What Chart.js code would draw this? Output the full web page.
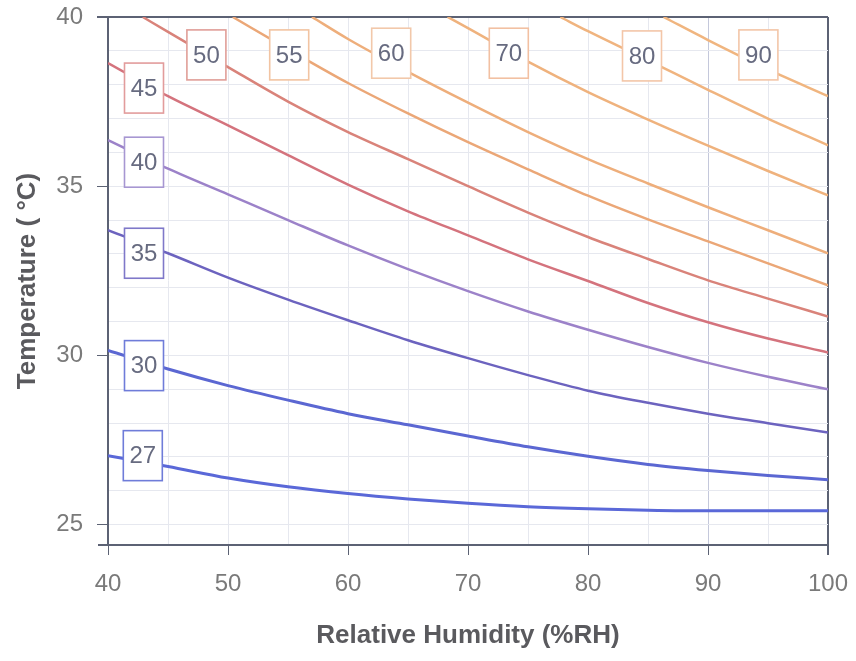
<!DOCTYPE html>
<html><head><meta charset="utf-8">
<script src="https://cdn.jsdelivr.net/npm/chart.js@4/dist/chart.umd.min.js"></script>
<style>html,body{margin:0;padding:0;background:#fff}</style>
</head><body>
<canvas id="c" width="856" height="661"></canvas>
<script>
// Relative humidity grid (%RH)
const rh = [40, 45, 50, 55, 60, 65, 70, 75, 80, 85, 90, 95, 100];
// Contour (apparent temperature) labels
const contourLabels = ['27', '30', '35', '40', '45', '50', '55', '60', '70', '80', '90'];
// RH where a contour enters through the top edge (T = 40 °C); null = enters from left edge
const topEntryRH = [null, null, null, null, null, 42.9, 50.4, 57.0, 68.3, 77.7, 86.3];
// Temperature (°C) along each contour at the RH grid
const t27 = [27.04, 26.72, 26.38, 26.12, 25.92, 25.76, 25.63, 25.53, 25.47, 25.43, 25.41, 25.41, 25.41];
const t30 = [30.15, 29.60, 29.11, 28.68, 28.28, 27.95, 27.62, 27.30, 27.02, 26.78, 26.60, 26.45, 26.33];
const t35 = [33.70, 33.02, 32.30, 31.65, 31.04, 30.45, 29.92, 29.42, 28.96, 28.60, 28.28, 28.00, 27.72];
const t40 = [36.36, 35.52, 34.76, 34.00, 33.25, 32.55, 31.90, 31.30, 30.76, 30.25, 29.78, 29.37, 29.00];
const t45 = [38.64, 37.66, 36.80, 35.92, 35.05, 34.26, 33.55, 32.84, 32.20, 31.55, 30.98, 30.50, 30.09];
const t50 = [null, 39.56, 38.52, 37.50, 36.60, 35.80, 35.00, 34.22, 33.50, 32.85, 32.22, 31.68, 31.15];
const t55 = [null, null, null, 39.05, 38.05, 37.15, 36.30, 35.50, 34.72, 34.02, 33.37, 32.72, 32.07];
const t60 = [null, null, null, null, 39.35, 38.38, 37.47, 36.60, 35.80, 35.08, 34.38, 33.70, 33.02];
const t70 = [null, null, null, null, null, null, 39.67, 38.68, 37.78, 36.97, 36.20, 35.45, 34.73];
const t80 = [null, null, null, null, null, null, null, null, 39.58, 38.72, 37.85, 37.00, 36.21];
const t90 = [null, null, null, null, null, null, null, null, null, null, 39.32, 38.45, 37.66];
const series = [t27, t30, t35, t40, t45, t50, t55, t60, t70, t80, t90];
// Label box anchors (RH, T)
const labelRH = [42.9, 43.0, 43.0, 43.0, 43.0, 48.2, 55.1, 63.6, 73.4, 84.5, 94.2];
const labelT  = [27.04, 29.70, 33.02, 35.71, 37.90, 38.88, 38.88, 38.93, 38.93, 38.85, 38.88];
// Axis ticks
const xGridValues = [40, 45, 50, 55, 60, 65, 70, 75, 80, 85, 90, 95, 100];
const yGridValues = [25, 26, 27, 28, 29, 30, 31, 32, 33, 34, 35, 36, 37, 38, 39, 40];

const lineColors = ['#5a68d8', '#5b67d2', '#6c63bf', '#9c82c9', '#d4737d', '#d9837a', '#eba777', '#eeae7b', '#efb27d', '#f0b47f', '#f0b57f'];
const boxColors  = ['#6f7cd9', '#6f7cd9', '#7f78c9', '#a797d2', '#e29c9c', '#e09e98', '#f2c4a2', '#f2c8aa', '#f2c0a2', '#f3c6a8', '#f3c6a8'];
const AXIS = '#5c6274';
const GRID = '#e6e8ef';

const datasets = series.map((vals, i) => {
  const pts = [];
  if (topEntryRH[i] !== null) pts.push({ x: topEntryRH[i], y: 40 });
  vals.forEach((v, j) => { if (v !== null) pts.push({ x: rh[j], y: v }); });
  return {
    label: contourLabels[i],
    data: pts,
    borderColor: lineColors[i],
    borderWidth: i < 2 ? 3 : 2.5,
    pointRadius: 0,
    cubicInterpolationMode: 'monotone',
    fill: false
  };
});

const boxLabels = {
  id: 'boxLabels',
  afterDatasetsDraw(chart) {
    const { ctx, scales: { x, y }, chartArea } = chart;
    ctx.save();
    contourLabels.forEach((t, i) => {
      const cx = x.getPixelForValue(labelRH[i]);
      const cy = y.getPixelForValue(labelT[i]);
      const w = 39, h = 50;
      ctx.fillStyle = '#ffffff';
      ctx.fillRect(cx - w / 2, cy - h / 2, w, h);
      ctx.strokeStyle = boxColors[i];
      ctx.lineWidth = 1.6;
      ctx.strokeRect(cx - w / 2, cy - h / 2, w, h);
      ctx.fillStyle = '#676b80';
      ctx.font = '24px "Liberation Sans", Arial, sans-serif';
      ctx.textAlign = 'center';
      ctx.textBaseline = 'middle';
      ctx.fillText(t, cx, cy + 1);
    });
    // small extension of the bottom axis line to the left
    ctx.strokeStyle = AXIS;
    ctx.lineWidth = 2;
    ctx.beginPath();
    ctx.moveTo(chartArea.left - 10, chartArea.bottom);
    ctx.lineTo(chartArea.left, chartArea.bottom);
    ctx.stroke();
    ctx.restore();
  }
};

new Chart(document.getElementById('c'), {
  type: 'line',
  data: { datasets },
  options: {
    responsive: false,
    animation: false,
    layout: { padding: { top: 17, right: 28, left: 0, bottom: 0 } },
    plugins: { legend: { display: false }, tooltip: { enabled: false } },
    scales: {
      x: {
        type: 'linear', min: 40, max: 100,
        afterBuildTicks: s => { s.ticks = xGridValues.map(v => ({ value: v })); },
        afterFit: s => { s.height = 116; s.paddingLeft = 0; s.paddingRight = 0; },
        ticks: {
          autoSkip: false, maxRotation: 0,
          callback: v => (v % 10 === 0 ? String(v) : ''),
          font: { family: 'Liberation Sans', size: 24 },
          color: '#7a7a7a', padding: 15
        },
        grid: {
          color: c => (c.tick && c.tick.value === 90 ? '#c4c8db' : c.tick && c.tick.value === 100 ? AXIS : GRID),
          lineWidth: c => (c.tick && c.tick.value === 100 ? 2 : 1),
          tickColor: c => (c.tick && c.tick.value % 10 === 0 ? AXIS : 'rgba(0,0,0,0)'),
          tickLength: 10, drawTicks: true
        },
        border: { color: AXIS, width: 2 },
        title: {
          display: true, text: 'Relative Humidity (%RH)',
          font: { family: 'Liberation Sans', size: 26, weight: 'bold' },
          color: '#5a5a5e', padding: { top: 0, bottom: 10 }
        }
      },
      y: {
        type: 'linear', min: 24.4, max: 40,
        afterBuildTicks: s => { s.ticks = yGridValues.map(v => ({ value: v })); },
        afterFit: s => { s.width = 108; s.paddingTop = 0; s.paddingBottom = 0; },
        ticks: {
          autoSkip: false,
          callback: v => (v % 5 === 0 ? String(v) : ''),
          font: { family: 'Liberation Sans', size: 24 },
          color: '#7a7a7a', padding: 14
        },
        grid: {
          color: c => (c.tick && c.tick.value === 40 ? AXIS : GRID),
          lineWidth: c => (c.tick && c.tick.value === 40 ? 2 : 1),
          tickColor: c => (c.tick && c.tick.value % 5 === 0 ? AXIS : 'rgba(0,0,0,0)'),
          tickLength: 11, drawTicks: true
        },
        border: { color: AXIS, width: 2 },
        title: {
          display: true, text: 'Temperature ( °C)',
          font: { family: 'Liberation Sans', size: 26, weight: 'bold' },
          color: '#5a5a5e', padding: { top: 12, bottom: 0 }
        }
      }
    }
  },
  plugins: [boxLabels]
});
</script>
</body></html>
